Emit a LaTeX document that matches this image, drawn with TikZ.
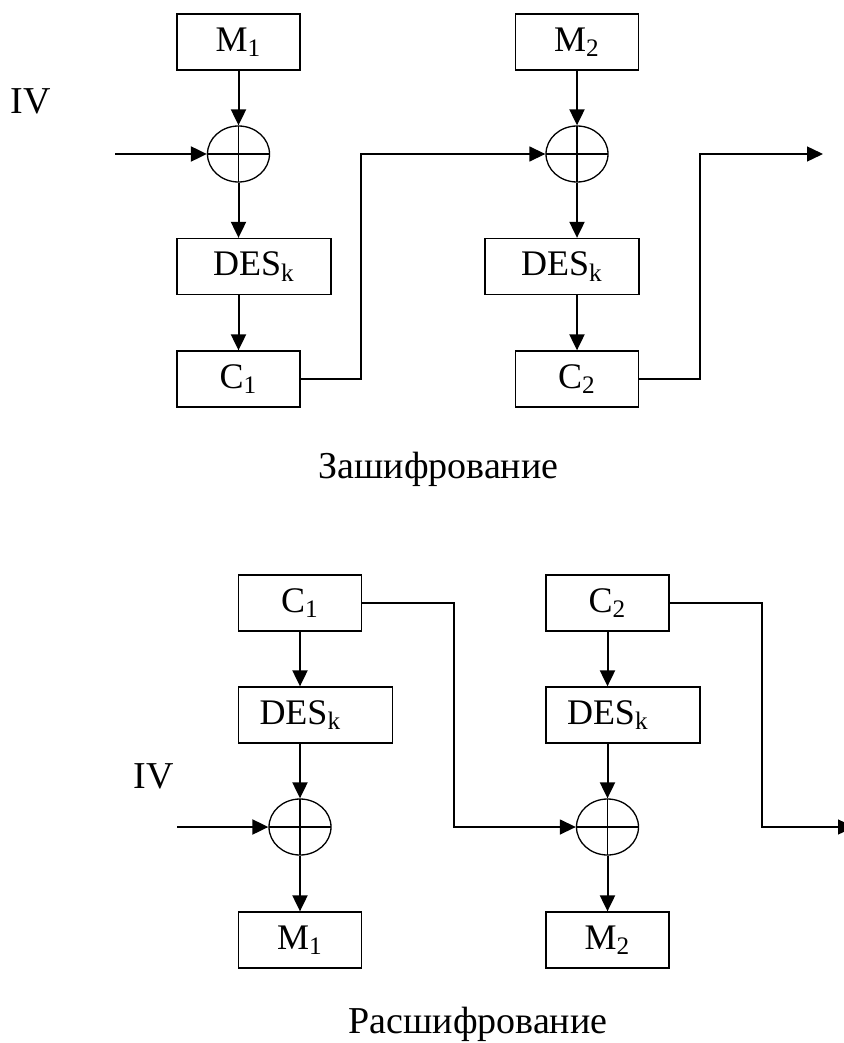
\documentclass[tikz,border=0pt]{standalone}
\usepackage{fontspec}
\setmainfont{Liberation Serif}
\usetikzlibrary{arrows.meta, shapes.geometric}

\begin{document}
\begin{tikzpicture}[x=0.5pt, y=-0.5pt,
    block/.style={draw, line width=0.65pt, minimum height=28pt, minimum width=61.5pt,
        inner sep=0pt, font=\fontsize{18}{21}\selectfont},
    wideblock/.style={block, minimum width=77pt},
    xor/.style={ellipse, draw, line width=0.65pt, minimum width=31pt, minimum height=28pt,
        inner sep=0pt,
        path picture={\draw[line width=0.65pt]
            (path picture bounding box.north) -- (path picture bounding box.south)
            (path picture bounding box.west) -- (path picture bounding box.east);}},
    flow/.style={-{Triangle[length=8pt, width=7.5pt]}, line width=1pt},
    link/.style={line width=0.7pt},
    bigtext/.style={font=\fontsize{19}{23}\selectfont}
]

    \useasboundingbox (0,0) rectangle (843,1043);

    % 1. Encryption: blocks of both rounds
    \foreach \i/\x/\d in {1/238.5/254, 2/577/562} {
        \node[block] (mE\i) at (\x,42) {M\textsubscript{\i}};
        \node[xor] (xE\i) at (\x,154) {};
        \node[wideblock] (dE\i) at (\d,266.5) {DES\textsubscript{k}};
        \node[block] (cE\i) at (\x,379) {C\textsubscript{\i}};

        \draw[flow] (mE\i) -- (xE\i);
        \draw[flow] (xE\i) -- (xE\i |- dE\i.north);
        \draw[flow] (xE\i |- dE\i.south) -- (cE\i);
    }

    % 2. Encryption: IV input and chaining lines
    \node[bigtext] (ivE) at (31,101) {IV};
    \coordinate (inE) at (115,154);
    \coordinate (bE1) at (361,154);
    \coordinate (bE2) at (700,154);
    \coordinate (outE) at (823,154);
    \draw[flow] (inE) -- (xE1);
    \draw[flow, link] (cE1.east) -| (bE1) -- (xE2.west);
    \draw[flow, link] (cE2.east) -| (bE2) -- (outE);

    \node[bigtext, anchor=base] (encT) at (438.5,478) {Зашифрование};

    % 3. Decryption: blocks of both rounds
    \foreach \i/\x/\d in {1/300/315.5, 2/607.5/623} {
        \node[block] (cD\i) at (\x,603) {C\textsubscript{\i}};
        \node[wideblock, text width=56pt, inner xsep=10.5pt, align=left]
            (dD\i) at (\d,715) {DES\textsubscript{k}};
        \node[xor] (xD\i) at (\x,827) {};
        \node[block] (mD\i) at (\x,940) {M\textsubscript{\i}};

        \draw[flow] (cD\i) -- (cD\i |- dD\i.north);
        \draw[flow] (cD\i |- dD\i.south) -- (xD\i);
        \draw[flow] (xD\i) -- (mD\i);
    }

    % 4. Decryption: IV input and chaining lines
    \node[bigtext] (ivD) at (154,776) {IV};
    \coordinate (inD) at (177,827);
    \coordinate (bD1) at (454,827);
    \coordinate (bD2) at (762,827);
    \coordinate (outD) at (854,827);
    \draw[flow] (inD) -- (xD1);
    \draw[flow, link] (cD1.east) -| (bD1) -- (xD2.west);
    \draw[flow, link] (cD2.east) -| (bD2) -- (outD);

    \node[bigtext, anchor=base] (decT) at (478,1033) {Расшифрование};

\end{tikzpicture}
\end{document}
